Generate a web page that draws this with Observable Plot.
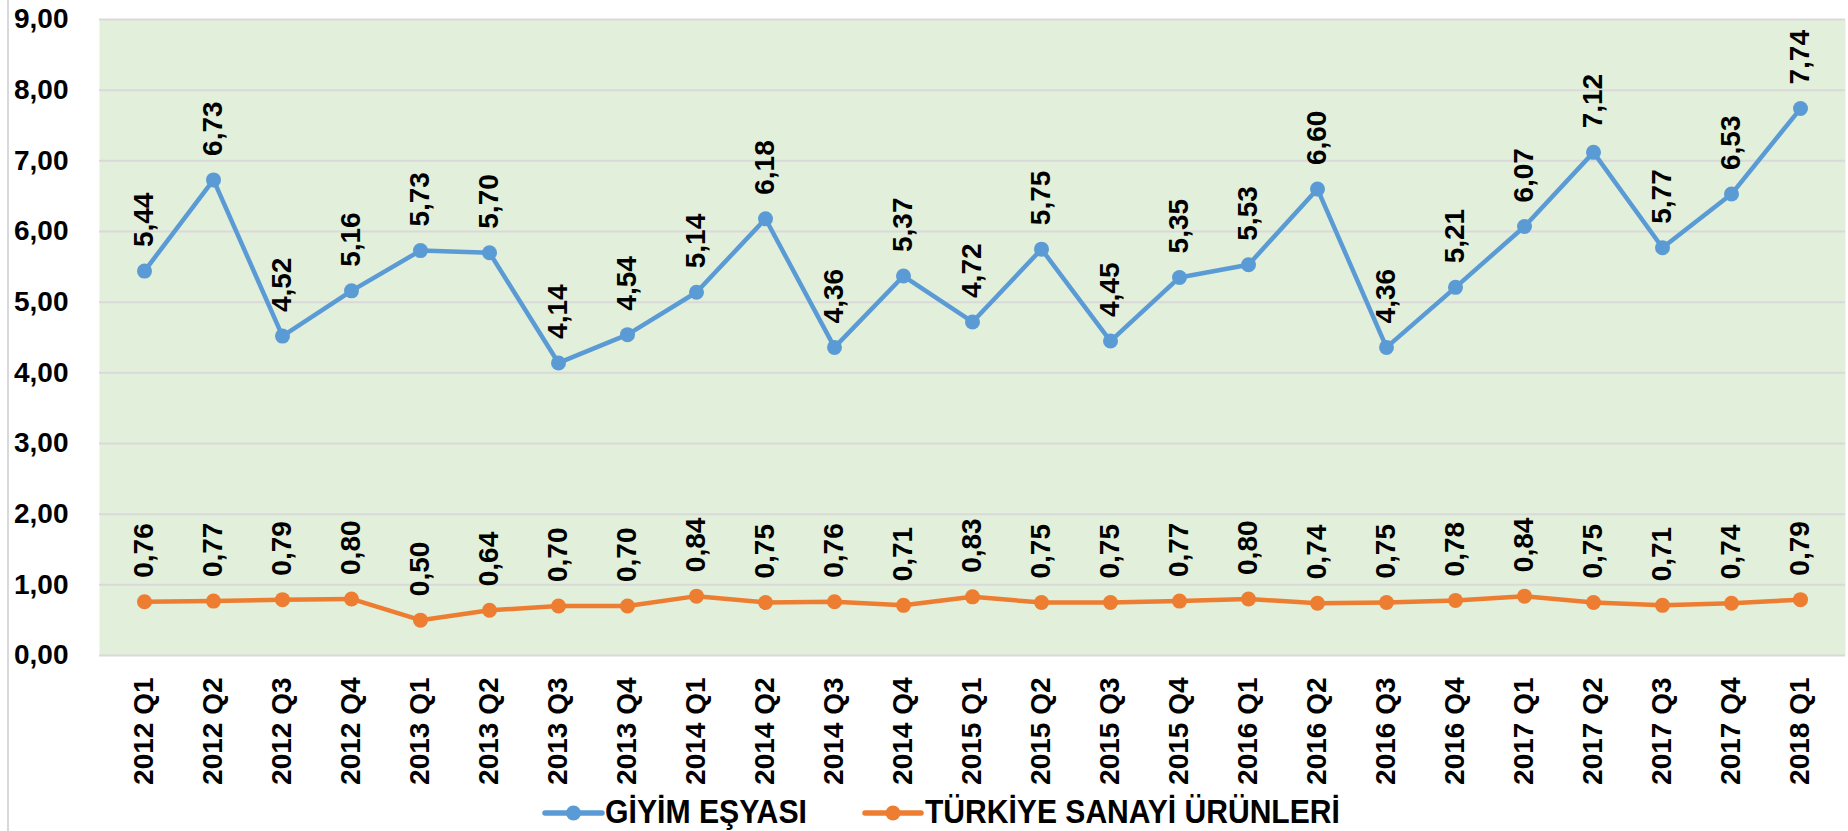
<!DOCTYPE html>
<html><head><meta charset="utf-8">
<script src="https://cdn.jsdelivr.net/npm/d3@7"></script>
<script src="https://cdn.jsdelivr.net/npm/@observablehq/plot@0.6"></script>
<style>
body{margin:0;background:#fff;width:1848px;height:831px;overflow:hidden;position:relative;font-family:"Liberation Sans",Arial,sans-serif;}
#frame{position:absolute;left:7px;top:0;width:2px;height:831px;background:#d9d9d9;}
#chart svg{display:block;}
</style></head><body><div id="frame"></div><div id="chart"></div>
<script>
const quarters = ["2012 Q1","2012 Q2","2012 Q3","2012 Q4","2013 Q1","2013 Q2","2013 Q3","2013 Q4","2014 Q1","2014 Q2","2014 Q3","2014 Q4","2015 Q1","2015 Q2","2015 Q3","2015 Q4","2016 Q1","2016 Q2","2016 Q3","2016 Q4","2017 Q1","2017 Q2","2017 Q3","2017 Q4","2018 Q1"];
const giyim = [5.44,6.73,4.52,5.16,5.73,5.70,4.14,4.54,5.14,6.18,4.36,5.37,4.72,5.75,4.45,5.35,5.53,6.60,4.36,5.21,6.07,7.12,5.77,6.53,7.74];
const sanayi = [0.76,0.77,0.79,0.80,0.50,0.64,0.70,0.70,0.84,0.75,0.76,0.71,0.83,0.75,0.75,0.77,0.80,0.74,0.75,0.78,0.84,0.75,0.71,0.74,0.79];
const yTicks = [0,1,2,3,4,5,6,7,8,9];
const seriesNames = ["GİYİM EŞYASI","TÜRKİYE SANAYİ ÜRÜNLERİ"];
const seriesColors = ["#5B9BD5","#ED7D31"];

const rows = [];
quarters.forEach((q,i)=>{
  rows.push({q, v:giyim[i], s:seriesNames[0]});
  rows.push({q, v:sanayi[i], s:seriesNames[1]});
});
const fmt = v => v.toFixed(2).replace(".", ",");
const font = "'Liberation Sans', Arial, sans-serif";

const plot = Plot.plot({
  width:1848, height:785,
  marginLeft:99, marginRight:3, marginTop:19, marginBottom:130,
  style:{fontFamily:font, fontSize:"28px", fontWeight:"bold", color:"#000", background:"transparent", overflow:"visible"},
  x:{type:"point", domain:quarters, padding:0.5, label:null, tickSize:0, tickPadding:22, tickRotate:-90},
  y:{domain:[0,9], ticks:yTicks, tickFormat:fmt, label:null, tickSize:0, tickPadding:31},
  color:{domain:seriesNames, range:seriesColors},
  marks:[
    Plot.frame({fill:"#E2EFDA", stroke:null}),
    Plot.ruleY(yTicks,{stroke:"#d9d9d9", strokeWidth:2}),
    Plot.line(rows,{x:"q", y:"v", z:"s", stroke:"s", strokeWidth:4.5}),
    Plot.dot(rows,{x:"q", y:"v", fill:"s", r:7.5}),
    Plot.text(rows,{x:"q", y:"v", text:d=>fmt(d.v), rotate:-90, textAnchor:"start", dy:-24, fill:"#000", fontSize:28, fontWeight:"bold"})
  ]
});
document.getElementById("chart").appendChild(plot);

// legend below the chart
const leg = d3.select("#chart").append("svg").attr("width",1848).attr("height",46)
  .style("display","block").style("font-family",font).style("font-weight","bold");
const items = [
  {name:seriesNames[0], color:seriesColors[0], x0:545, x1:602, tx:605, tl:202},
  {name:seriesNames[1], color:seriesColors[1], x0:865, x1:921, tx:925, tl:415}
];
items.forEach(it=>{
  leg.append("line").attr("x1",it.x0).attr("x2",it.x1).attr("y1",28).attr("y2",28)
    .attr("stroke",it.color).attr("stroke-width",5.5).attr("stroke-linecap","round");
  leg.append("circle").attr("cx",(it.x0+it.x1)/2).attr("cy",28).attr("r",7.5).attr("fill",it.color);
  const t = leg.append("text").attr("x",0).attr("y",0).attr("font-size",33)
    .attr("fill","#000").text(it.name);
  const natural = t.node().getComputedTextLength() || it.tl;
  t.attr("transform",`translate(${it.tx},38) scale(${it.tl/natural},1)`);
});
</script>
</body></html>
